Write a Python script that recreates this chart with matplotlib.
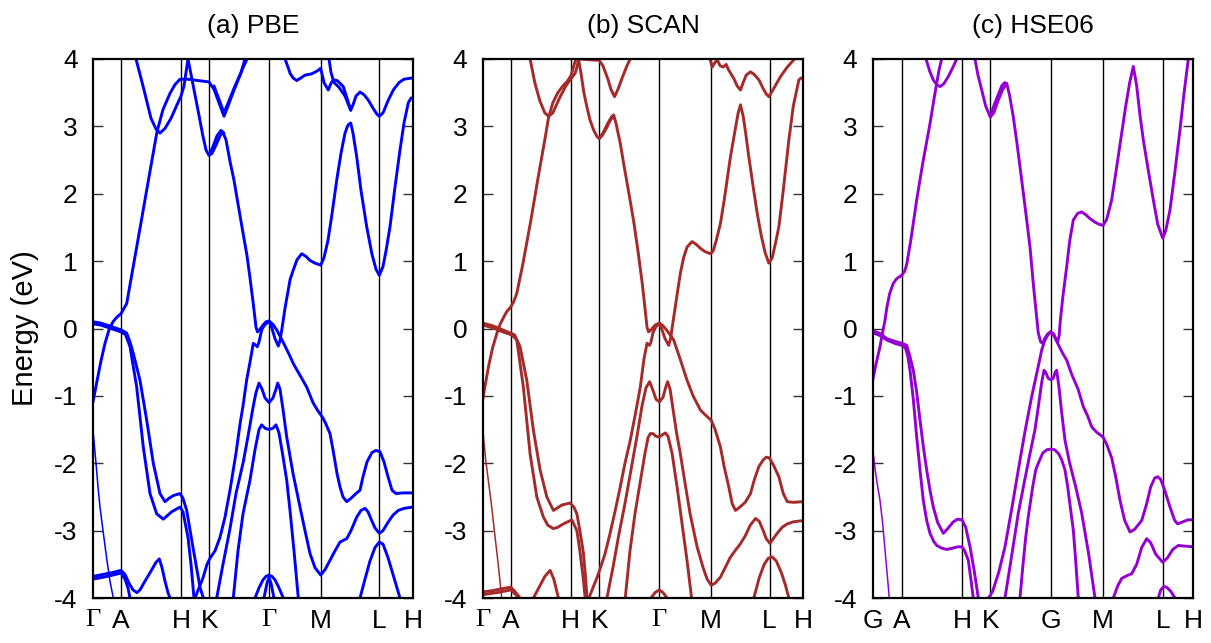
import matplotlib
matplotlib.use('Agg')
import matplotlib.pyplot as plt

# ---------- k-path (panel pixel units along the path) ----------
kpath_ab = [0, 28, 88, 116.3, 176, 227.7, 286.3, 320]
kpath_c = [0, 29, 89.3, 117.6, 178, 230.3, 290, 320.6]
labels_ab = ['Γ', 'A', 'H', 'K', 'Γ', 'M', 'L', 'H']
labels_c = ['G', 'A', 'H', 'K', 'G', 'M', 'L', 'H']
titles = ['(a) PBE', '(b) SCAN', '(c) HSE06']
colors = ['#0000ff', '#a52a2a', '#9400d3']

# ---------- (a) PBE : bands as (k, E) ----------
pbe_ga_top1 = [(0, 0.10), (8, 0.08), (16, 0.04), (24, 0.0), (28, -0.02), (32, -0.06)]
pbe_ga_top2 = [(0, 0.07), (8, 0.05), (16, 0.01), (24, -0.03), (28, -0.05), (31, -0.08)]
pbe_vb_u = [(28, -0.02), (33.7, -0.07), (37, -0.2), (40.3, -0.37), (47, -0.77), (53.7, -1.36),
            (60.3, -2.0), (67, -2.45), (72, -2.57), (76, -2.52), (80.3, -2.48), (87, -2.45),
            (90, -2.52), (93.7, -2.7), (100, -3.25), (107, -3.84), (110.3, -4.0)]
pbe_vb_l = [(28, -0.04), (32, -0.07), (37, -0.27), (43.7, -0.87), (50.3, -1.76), (57, -2.45),
            (63.7, -2.75), (70.3, -2.83), (78.7, -2.72), (87, -2.65), (90, -2.72), (95, -3.1),
            (98, -3.5), (101, -4.0)]
pbe_cb_a = [(0, -1.09), (4, -0.78), (8, -0.48), (12, -0.22), (16, -0.02), (20, 0.1), (24, 0.17),
            (28, 0.22), (31, 0.3), (33.7, 0.37), (40, 0.9), (48, 1.57), (56, 2.25), (64, 2.92),
            (70, 3.25), (77, 3.49), (82, 3.62), (87, 3.7), (95, 3.7), (105, 3.68), (116, 3.66),
            (121, 3.55), (126, 3.35), (131, 3.15), (135, 3.3), (140, 3.5), (146, 3.72),
            (150, 3.87), (154, 4.0)]
pbe_cb_a2 = [(121, 3.6), (126, 3.4), (131, 3.2), (136, 3.38), (142, 3.6), (148, 3.8), (152, 4.0)]
pbe_par = [(43, 4.0), (50, 3.6), (58, 3.12), (63, 2.96), (67, 2.9), (72, 2.97), (78, 3.12),
           (84, 3.32), (88, 3.45), (91, 3.6), (93, 3.8), (95, 4.0)]
pbe_r = [(95, 4.0), (100, 3.62), (105, 3.24), (110, 2.85), (113, 2.65), (116, 2.57), (119, 2.6),
         (123, 2.72), (127, 2.86), (130, 2.91), (133, 2.8), (137, 2.48), (141, 2.2), (145, 1.85),
         (150, 1.42), (154, 1.08), (157, 0.75), (160, 0.4), (163, 0.02), (164.5, -0.05),
         (167, -0.01), (170, 0.05), (173, 0.1), (176, 0.11)]
pbe_r2 = [(116, 2.57), (120, 2.7), (124, 2.86), (128, 2.94), (131, 2.9)]
pbe_rv = [(176, 0.11), (179, 0.0), (182, -0.15), (185.3, -0.26), (187, -0.18), (189, 0.0),
          (192, 0.3), (195, 0.55), (197, 0.72), (200.3, 0.87), (204, 1.02), (208.7, 1.11),
          (213, 1.07), (217, 1.01), (222, 0.97), (227.7, 0.94), (231, 1.05), (235, 1.31),
          (239, 1.7), (243.7, 2.2), (248, 2.6), (252, 2.9), (255, 3.02), (257.7, 3.05),
          (260, 2.9), (263.7, 2.55), (268, 2.05), (273.7, 1.51), (279, 1.1), (283, 0.88),
          (286.3, 0.79), (290, 0.92), (293, 1.15), (297, 1.51), (302, 2.1), (307, 2.65),
          (311, 3.05), (315.3, 3.35), (318, 3.42), (320, 3.42)]
pbe_dome_r = [(176, 0.11), (180, 0.06), (183.7, -0.02), (190, -0.2), (196, -0.38), (200.3, -0.52),
              (203.7, -0.61), (208, -0.72), (213.7, -0.87), (220, -1.1), (224, -1.2),
              (227.7, -1.28), (230, -1.33), (233, -1.42), (237, -1.56), (240, -1.8), (244, -2.15),
              (247, -2.35), (250, -2.5), (253.7, -2.57), (258, -2.52), (263, -2.45), (267, -2.4),
              (270, -2.2), (274, -1.98), (279, -1.84), (283, -1.81), (287, -1.83), (291, -1.98),
              (295, -2.2), (299, -2.4), (303, -2.45), (310, -2.44), (320, -2.44)]
pbe_lv = [(176, 0.11), (173.7, 0.08), (171, 0.04), (168.7, -0.02), (166, -0.2), (164.3, -0.27),
          (162, -0.24), (160.3, -0.22), (157, -0.5), (153.7, -0.76), (150, -1.15), (147, -1.42),
          (143, -1.85), (137, -2.4), (132, -2.8), (127, -3.1), (122, -3.3), (117, -3.41),
          (114, -3.5), (110, -3.7), (106, -3.85), (102, -4.0)]
pbe_m1 = [(123.7, -4.0), (130, -3.5), (137, -2.97), (143, -2.45), (150.3, -1.98), (155, -1.6),
          (160.3, -1.15), (163, -0.95), (166, -0.81), (169, -0.9), (172, -1.03), (176, -1.1),
          (180, -1.03), (183, -0.9), (184.7, -0.81), (187, -0.9), (190, -1.2), (193.7, -1.61),
          (200, -2.15), (207, -2.65), (212, -3.0), (217, -3.34), (222, -3.55), (227.7, -3.66),
          (232, -3.58), (237, -3.44), (242, -3.3), (247, -3.17), (253.7, -3.12), (258, -3.0),
          (263.7, -2.8), (268, -2.7), (272, -2.67), (275, -2.72), (278.7, -2.85), (282, -2.96),
          (286.3, -3.04), (290, -3.0), (295.3, -2.87), (300, -2.77), (305.3, -2.70),
          (311, -2.67), (320, -2.65)]
pbe_m2 = [(140.3, -4.0), (145, -3.3), (150, -2.75), (157, -2.25), (162, -1.8), (166, -1.5),
          (168.7, -1.43), (172, -1.48), (176, -1.5), (180, -1.48), (183, -1.43), (186, -1.55),
          (190, -1.9), (193.7, -2.25), (197, -2.7), (201, -3.3), (205.3, -4.0)]
pbe_dome3a = [(162, -4.0), (166, -3.85), (170, -3.73), (173, -3.68), (176, -3.66), (179, -3.68),
              (182, -3.73), (186, -3.85), (190.3, -4.0)]
pbe_dome3b = [(171, -4.0), (174, -3.78), (176, -3.7), (178, -3.78), (181, -4.0)]
pbe_steep = [(0, -1.51), (3, -2.0), (5, -2.35), (7, -2.65), (10, -3.0), (14, -3.45), (17, -3.75),
             (20.3, -4.0)]
pbe_bot1 = [(0, -3.68), (10, -3.65), (20, -3.62), (28, -3.59), (32, -3.65), (36, -3.78),
            (40, -3.88), (44, -3.92), (47, -3.88), (52, -3.75), (58, -3.6), (63, -3.47),
            (66.3, -3.42), (69, -3.55), (72, -3.75), (75, -3.92), (77, -4.0)]
pbe_bot2 = [(0, -3.72), (14, -3.68), (28, -3.63), (32, -3.72), (35, -3.85), (37, -4.0)]
pbe_lbot = [(267, -4.0), (272, -3.72), (277, -3.45), (282, -3.25), (286.3, -3.17), (290, -3.2),
            (295, -3.4), (300, -3.65), (305, -3.9), (307, -4.0)]
pbe_top1 = [(192, 4.0), (195, 3.88), (197, 3.79), (200, 3.72), (203.7, 3.68), (208, 3.72),
            (212, 3.76), (218.7, 3.78), (224, 3.82), (227.7, 3.86)]
pbe_top2 = [(227.7, 3.86), (231, 3.65), (235.3, 3.54), (238, 3.64), (240.3, 3.69), (244, 3.68),
            (247, 3.64), (250.3, 3.59), (254, 3.42), (257.7, 3.24), (260, 3.32), (263, 3.45),
            (267, 3.51), (271, 3.47), (275.3, 3.39), (280, 3.27), (284, 3.18), (286.3, 3.15),
            (290, 3.2), (295, 3.38), (300.3, 3.54), (306, 3.65), (311, 3.7), (315.3, 3.71),
            (320, 3.72)]
pbe_top3 = [(236, 4.0), (238, 3.8), (241, 3.65), (246, 3.58), (252, 3.45), (257.7, 3.24)]

pbe_bands = [pbe_ga_top1, pbe_ga_top2, pbe_vb_u, pbe_vb_l, pbe_cb_a, pbe_cb_a2, pbe_par, pbe_r,
             pbe_r2, pbe_rv, pbe_dome_r, pbe_lv, pbe_m1, pbe_m2, pbe_dome3a, pbe_dome3b,
             pbe_bot1, pbe_bot2, pbe_lbot, pbe_top1, pbe_top2, pbe_top3]
pbe_thin = [pbe_steep]

# ---------- (b) SCAN ----------
scan_ga_top1 = [(0, 0.08), (10, 0.04), (20, -0.02), (28, -0.07), (32, -0.1)]
scan_ga_top2 = [(0, 0.05), (10, 0.01), (20, -0.05), (28, -0.09), (31, -0.12)]
scan_vb_u = [(28, -0.07), (32, -0.1), (37.3, -0.27), (44, -0.77), (50.6, -1.51), (57.3, -2.1),
             (64, -2.5), (70.6, -2.7), (75, -2.66), (79, -2.62), (87.3, -2.59), (91, -2.65),
             (94, -2.75), (97, -3.0), (100.6, -3.34), (103, -3.75), (104, -4.0)]
scan_vb_l = [(28, -0.09), (31, -0.12), (34, -0.17), (40.6, -0.87), (47.3, -1.86), (54, -2.5),
             (60.6, -2.8), (65, -2.92), (70.6, -2.97), (75, -2.95), (80.6, -2.9), (89, -2.84),
             (94, -3.0), (97, -3.3), (100.6, -3.74), (102.3, -4.0)]
scan_cb_a = [(0, -1.06), (3, -0.8), (6, -0.55), (10, -0.28), (14, -0.08), (17, 0.05), (21, 0.17),
             (24, 0.25), (28, 0.32), (31, 0.4), (34, 0.52), (40, 0.95), (48, 1.6), (56, 2.3),
             (62, 2.8), (65.7, 3.13), (70, 3.35), (75, 3.5), (80, 3.6), (84, 3.66), (88, 3.75),
             (91, 3.9), (93, 4.0)]
scan_par = [(47.3, 4.0), (52, 3.65), (57, 3.38), (62, 3.2), (65.7, 3.15), (70, 3.2), (77.3, 3.44),
            (83, 3.6), (87.3, 3.69), (92.3, 3.79), (94.5, 3.9), (95.6, 4.0)]
scan_r = [(95.6, 4.0), (98, 3.8), (101, 3.5), (104, 3.29), (107, 3.1), (110.6, 2.95), (114, 2.85),
          (116.3, 2.82), (119, 2.86), (122.3, 2.94), (127, 3.08), (130.7, 3.17), (133, 3.05),
          (137.3, 2.75), (141, 2.42), (146, 2.0), (150.6, 1.6), (155, 1.15), (159, 0.7),
          (162, 0.3), (164, 0.02), (165.5, -0.05), (168, -0.02), (172, 0.05), (176.3, 0.08)]
scan_r2 = [(116.3, 2.82), (120, 2.9), (125, 3.05), (129, 3.15), (131, 3.12)]
scan_flat = [(95.6, 4.0), (105, 3.99), (116.3, 3.98), (120, 3.9), (125, 3.7), (128, 3.55),
             (131.6, 3.44), (135, 3.55), (140, 3.75), (144, 3.9), (147.3, 4.0)]
scan_rv = [(176.3, 0.08), (179, -0.02), (182, -0.15), (185.6, -0.25), (187.5, -0.15), (189, 0.0),
           (192, 0.3), (194.5, 0.55), (197.3, 0.82), (200.5, 1.05), (204, 1.21), (209, 1.29),
           (213, 1.25), (217.3, 1.19), (222, 1.14), (227.3, 1.11), (230, 1.15), (233, 1.3),
           (237.3, 1.56), (241, 1.9), (247.3, 2.55), (252, 2.95), (255, 3.2), (257.3, 3.32),
           (260, 3.15), (262.5, 2.9), (265.6, 2.55), (270, 2.1), (274, 1.71), (278, 1.38),
           (282, 1.12), (285.6, 0.97), (289, 1.05), (292, 1.25), (295.6, 1.51), (300, 2.05),
           (305.6, 2.8), (310, 3.3), (315.6, 3.69), (318, 3.72)]
scan_top = [(227, 4.0), (229, 3.88), (232, 3.95), (234, 3.99), (237, 3.9), (240, 3.88),
            (243, 3.92), (245, 3.85), (247, 3.8), (251, 3.7), (254, 3.6), (257.3, 3.54),
            (260, 3.65), (263, 3.76), (267.3, 3.81), (271, 3.77), (275.7, 3.69), (280, 3.56),
            (283, 3.48), (285.6, 3.44), (290, 3.55), (297.3, 3.74), (304, 3.88), (310.6, 3.99)]
scan_dome_r = [(176.3, 0.08), (180, 0.04), (185, -0.05), (190.6, -0.17), (197, -0.45),
               (204, -0.77), (210, -1.0), (217.3, -1.21), (222, -1.28), (228, -1.36),
               (232, -1.5), (237.3, -1.76), (241, -2.05), (245.6, -2.35), (249, -2.6),
               (252.3, -2.70), (256, -2.66), (262, -2.58), (267.3, -2.45), (271, -2.25),
               (275.6, -2.05), (280, -1.95), (283, -1.91), (286, -1.92), (290, -2.02),
               (295.6, -2.2), (300, -2.45), (304, -2.57), (310, -2.58), (320, -2.57)]
scan_lv = [(176.3, 0.08), (173, 0.03), (170, -0.06), (168, -0.2), (166.5, -0.25), (164, -0.22),
           (161, -0.45), (157.3, -0.87), (152, -1.3), (147, -1.68), (142, -2.0), (137.3, -2.35),
           (132, -2.72), (127, -3.05), (122, -3.35), (117.3, -3.56), (114, -3.7), (110, -3.85),
           (106, -4.0)]
scan_m1 = [(124, -4.0), (130, -3.55), (136, -3.05), (142, -2.6), (148, -2.1), (154, -1.6),
           (159, -1.15), (163, -0.88), (166.6, -0.79), (170, -0.92), (173, -1.05), (176.3, -1.09),
           (180, -1.02), (182.5, -0.88), (184.6, -0.79), (187, -0.9), (190, -1.2), (193.5, -1.55),
           (197.3, -1.86), (202, -2.3), (207, -2.75), (214, -3.24), (220, -3.55), (224, -3.72),
           (228, -3.81), (232, -3.78), (237.3, -3.69), (242, -3.55), (247, -3.4), (252.3, -3.29),
           (257, -3.2), (262, -3.08), (267, -2.92), (272.3, -2.82), (276, -2.86), (280, -3.0),
           (283, -3.12), (286.7, -3.19), (290, -3.12), (295, -3.02), (299, -2.95), (304, -2.9),
           (310, -2.87), (320, -2.85)]
scan_m2 = [(142.3, -4.0), (147, -3.3), (152, -2.75), (157, -2.3), (162, -1.85), (165, -1.62),
           (167.3, -1.56), (170, -1.56), (173, -1.6), (176.3, -1.61), (179, -1.58), (182.3, -1.55),
           (185, -1.6), (189, -1.85), (194, -2.35), (199, -2.9), (204, -3.45), (208.5, -4.0)]
scan_dome3 = [(168, -4.0), (172, -3.92), (176.3, -3.88), (180, -3.92), (184, -4.0)]
scan_steep = [(0.6, -1.58), (3, -1.95), (6, -2.3), (9, -2.65), (12, -3.05), (15.5, -3.5),
              (19, -4.0)]
scan_bot1 = [(0, -3.91), (10, -3.89), (20, -3.86), (28, -3.84), (32, -3.9), (37.3, -4.0)]
scan_bot2 = [(0, -3.95), (14, -3.92), (28, -3.88), (33, -3.95), (36, -4.0)]
scan_hump = [(50.6, -4.0), (56, -3.85), (62, -3.68), (67.3, -3.59), (71, -3.72), (75.6, -4.0)]
scan_lbot = [(270.6, -4.0), (276, -3.7), (281, -3.5), (285, -3.41), (289, -3.39), (293, -3.45),
             (298, -3.62), (302, -3.8), (305.6, -4.0)]

scan_bands = [scan_ga_top1, scan_ga_top2, scan_vb_u, scan_vb_l, scan_cb_a, scan_par, scan_r,
              scan_r2, scan_flat, scan_rv, scan_top, scan_dome_r, scan_lv, scan_m1, scan_m2,
              scan_dome3, scan_bot1, scan_bot2, scan_hump, scan_lbot]
scan_thin = [scan_steep]

# ---------- (c) HSE06 ----------
hse_ga_top1 = [(0, -0.03), (8, -0.08), (14, -0.15), (22, -0.19), (29, -0.22), (33, -0.25)]
hse_ga_top2 = [(0, -0.06), (8, -0.11), (14, -0.17), (22, -0.22), (29, -0.25), (32, -0.28)]
hse_vb_u = [(29, -0.22), (34, -0.25), (37, -0.4), (40.6, -0.62), (44, -0.95), (47.3, -1.36),
            (50.6, -1.75), (54, -2.1), (57.3, -2.4), (60.6, -2.65), (65, -2.88), (70.6, -3.04),
            (75, -2.97), (80.6, -2.87), (85, -2.83), (89.3, -2.84), (93, -2.95), (97.3, -3.24),
            (101, -3.55), (104, -3.84), (105.6, -4.0)]
hse_vb_l = [(29, -0.24), (32.3, -0.27), (35, -0.4), (37.3, -0.62), (40.6, -1.05), (44, -1.61),
            (47.3, -2.1), (50.6, -2.55), (54, -2.85), (57.3, -3.04), (61, -3.16), (64, -3.22),
            (69, -3.26), (74, -3.28), (80, -3.26), (85, -3.24), (89.3, -3.24), (92, -3.3),
            (95.6, -3.44), (98, -3.7), (100.6, -4.0)]
hse_cb_a = [(0, -0.77), (3, -0.55), (5, -0.42), (7.3, -0.27), (10, -0.05), (12.3, 0.12),
            (14, 0.3), (17, 0.52), (20.6, 0.67), (24, 0.74), (29, 0.79), (32, 0.85), (34, 0.95),
            (38, 1.3), (44, 1.91), (50, 2.45), (57.3, 3.04), (61, 3.38), (64, 3.64), (66.5, 3.85),
            (69, 4.0)]
hse_par = [(53.3, 4.0), (57, 3.82), (60.6, 3.69), (64, 3.62), (67.3, 3.59), (71, 3.63),
           (75.6, 3.74), (80, 3.87), (84, 4.0)]
hse_r = [(102.3, 4.0), (105, 3.78), (109, 3.54), (113, 3.3), (117.6, 3.14), (121, 3.2),
         (125.6, 3.39), (130, 3.55), (134, 3.64), (137, 3.45), (140.6, 3.14), (144, 2.78),
         (147.3, 2.4), (152, 1.85), (157.3, 1.21), (161, 0.6), (165.6, -0.07), (168, -0.2),
         (170, -0.22), (172, -0.15), (175, -0.08), (178, -0.05)]
hse_r2 = [(117.6, 3.14), (121, 3.3), (125, 3.45), (129, 3.6), (132, 3.65)]
hse_rv = [(178, -0.05), (181, -0.08), (183, -0.15), (185, -0.2), (186.5, -0.1), (187.5, 0.1),
          (190, 0.45), (194, 0.92), (197, 1.3), (200.6, 1.61), (205, 1.71), (209, 1.73),
          (213, 1.69), (217.3, 1.63), (222, 1.58), (226, 1.55), (230.3, 1.53), (234, 1.62),
          (239, 1.91), (244, 2.4), (249, 2.9), (253, 3.3), (257, 3.65), (260.6, 3.89), (264, 3.6),
          (267, 3.2), (270.6, 2.8), (275, 2.4), (280.6, 1.91), (285, 1.55), (290, 1.34),
          (293, 1.45), (297.3, 1.76), (302, 2.3), (307.3, 2.95), (311, 3.45), (315.6, 4.0)]
hse_dome_r = [(178, -0.05), (181, -0.1), (186, -0.25), (190, -0.37), (194, -0.47), (199, -0.68),
              (205.6, -0.91), (210.6, -1.16), (215, -1.3), (219, -1.46), (224, -1.54),
              (230.3, -1.61), (234, -1.72), (239, -1.92), (243, -2.2), (247.3, -2.55),
              (252, -2.85), (257.3, -3.02), (262, -2.98), (269, -2.85), (274, -2.6), (278, -2.35),
              (282, -2.22), (285, -2.2), (288, -2.24), (292, -2.4), (297.3, -2.65), (302, -2.85),
              (305, -2.9), (310, -2.87), (315, -2.84), (320.6, -2.84)]
hse_lv = [(178, -0.05), (175, -0.1), (172, -0.18), (169, -0.32), (165, -0.6), (159, -1.01),
          (152, -1.55), (145.6, -2.1), (139, -2.68), (132.3, -3.24), (126, -3.62), (120, -3.9),
          (117.6, -3.96), (115.6, -4.0)]
hse_m1 = [(132.3, -4.0), (139, -3.37), (145.6, -2.74), (152, -2.25), (157, -1.88), (162.3, -1.5),
          (166, -1.12), (169, -0.8), (171.3, -0.62), (173, -0.65), (175.5, -0.74), (178, -0.76),
          (180.5, -0.74), (182.5, -0.65), (184, -0.62), (186.5, -0.9), (189, -1.25),
          (192.3, -1.66), (197, -2.0), (203, -2.35), (209, -2.74), (216, -3.35), (222.3, -4.0)]
hse_dome2 = [(147.3, -4.0), (150, -3.55), (153, -3.1), (155.6, -2.79), (160, -2.35), (163, -2.1),
             (165.6, -2.0), (170, -1.85), (174, -1.8), (178, -1.79), (182, -1.8), (186, -1.86),
             (189, -1.95), (192.3, -2.1), (195, -2.35), (198, -2.7), (200.6, -2.99),
             (203, -3.45), (205.6, -4.0)]
hse_steep = [(0, -1.78), (2.5, -2.1), (5, -2.35), (7.3, -2.55), (10, -2.9), (13, -3.4),
             (16.6, -4.0)]
hse_mbot = [(240.6, -4.0), (245, -3.82), (249, -3.71), (254, -3.67), (259, -3.64), (264, -3.5),
            (269, -3.25), (274, -3.12), (278, -3.18), (283, -3.35), (290, -3.47), (295, -3.4),
            (300, -3.28), (305.6, -3.22), (312, -3.23), (320.6, -3.24)]
hse_lbot = [(285.6, -4.0), (288, -3.88), (291, -3.83), (294, -3.84), (298, -3.9), (302.3, -4.0)]

hse_bands = [hse_ga_top1, hse_ga_top2, hse_vb_u, hse_vb_l, hse_cb_a, hse_par, hse_r, hse_r2,
             hse_rv, hse_dome_r, hse_lv, hse_m1, hse_dome2, hse_mbot, hse_lbot]
hse_thin = [hse_steep]


def draw_panel(ax, bands, thin, kpath, labels, color, title, ylabel=False):
    for k in kpath[1:-1]:
        ax.axvline(k, color='black', lw=1.0, zorder=1)
    for b in bands:
        k, e = zip(*b)
        ax.plot(k, e, color=color, lw=2.1, solid_capstyle='round', solid_joinstyle='round', zorder=2)
    for b in thin:
        k, e = zip(*b)
        ax.plot(k, e, color=color, lw=1.1, zorder=2)
    ax.set_xlim(kpath[0], kpath[-1])
    ax.set_ylim(-4, 4)
    ax.set_xticks(kpath)
    ax.set_xticklabels(labels)
    for t in ax.get_xticklabels():
        if t.get_text() == 'Γ':
            t.set_fontfamily('Liberation Serif')
    ax.set_yticks(range(-4, 5))
    ax.tick_params(axis='x', length=0, pad=8, labelsize=19)
    ax.tick_params(axis='y', direction='in', length=7, width=1.0, left=True, right=True,
                   pad=11, labelsize=19, color='#333333')
    for s in ax.spines.values():
        s.set_linewidth(1.6)
    ax.set_title(title, fontsize=19, pad=19)
    if ylabel:
        ax.set_ylabel('Energy (eV)', fontsize=21)
        ax.yaxis.set_label_coords(-0.17, 0.5)


def main():
    plt.rcParams['font.family'] = ['Liberation Sans', 'DejaVu Sans']
    plt.rcParams['axes.unicode_minus'] = False
    fig = plt.figure(figsize=(12.11, 6.43), dpi=100)
    lefts = [93, 482.7, 872.7]
    widths = [320, 320.6, 320.6]
    panels = [
        (pbe_bands, pbe_thin, kpath_ab, labels_ab),
        (scan_bands, scan_thin, kpath_ab, labels_ab),
        (hse_bands, hse_thin, kpath_c, labels_c),
    ]
    for i, (bands, thin, kp, lab) in enumerate(panels):
        ax = fig.add_axes([lefts[i] / 1211, 45 / 643, widths[i] / 1211, 539 / 643])
        draw_panel(ax, bands, thin, kp, lab, colors[i], titles[i], ylabel=(i == 0))
    fig.savefig('out.png', dpi=100)
    plt.close(fig)


if __name__ == '__main__':
    main()
